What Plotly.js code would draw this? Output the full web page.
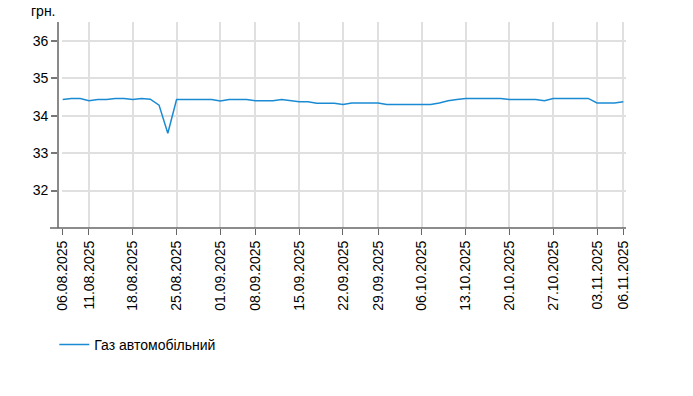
<!DOCTYPE html>
<html>
<head>
<meta charset="utf-8">
<script src="https://cdn.plot.ly/plotly-3.0.1.min.js"></script>
<style>html,body{margin:0;padding:0;background:#fff;}#chart{width:693px;height:396px;}</style>
</head>
<body>
<div id="chart"></div>
<script>
// Business days (category axis)
const dates = [
  "06.08.2025","07.08.2025","08.08.2025","11.08.2025","12.08.2025","13.08.2025","14.08.2025","15.08.2025",
  "18.08.2025","19.08.2025","20.08.2025","21.08.2025","22.08.2025","25.08.2025","26.08.2025","27.08.2025",
  "28.08.2025","29.08.2025","01.09.2025","02.09.2025","03.09.2025","04.09.2025","08.09.2025","09.09.2025",
  "10.09.2025","11.09.2025","12.09.2025","15.09.2025","16.09.2025","17.09.2025","18.09.2025","19.09.2025",
  "22.09.2025","23.09.2025","24.09.2025","25.09.2025","29.09.2025","30.09.2025","01.10.2025","02.10.2025",
  "03.10.2025","06.10.2025","07.10.2025","08.10.2025","09.10.2025","10.10.2025","13.10.2025","14.10.2025",
  "15.10.2025","16.10.2025","17.10.2025","20.10.2025","21.10.2025","22.10.2025","23.10.2025","24.10.2025",
  "27.10.2025","28.10.2025","29.10.2025","30.10.2025","31.10.2025","03.11.2025","04.11.2025","05.11.2025",
  "06.11.2025"
];
const gasPrice = [
  34.43,34.46,34.46,34.40,34.43,34.43,34.46,34.46,
  34.43,34.46,34.44,34.28,33.53,34.43,34.43,34.43,
  34.43,34.43,34.39,34.43,34.43,34.43,34.40,34.40,
  34.40,34.43,34.39,34.37,34.37,34.33,34.33,34.33,
  34.30,34.34,34.34,34.34,34.34,34.30,34.30,34.30,
  34.30,34.30,34.30,34.34,34.40,34.43,34.46,34.46,
  34.46,34.46,34.46,34.43,34.43,34.43,34.43,34.40,
  34.46,34.46,34.46,34.46,34.46,34.34,34.34,34.34,
  34.37
];
const tickDates = ["06.08.2025","11.08.2025","18.08.2025","25.08.2025","01.09.2025","08.09.2025","15.09.2025",
  "22.09.2025","29.09.2025","06.10.2025","13.10.2025","20.10.2025","27.10.2025","03.11.2025","06.11.2025"];
const yTicks = [32,33,34,35,36];
const seriesName = "Газ автомобільний";
const unitLabel = "грн.";

const FONT = '"Liberation Sans", Arial, sans-serif';

const trace = {
  x: dates, y: gasPrice, type: 'scatter', mode: 'lines', name: seriesName,
  line: {color: '#1a8bd3', width: 1.5}
};

const layout = {
  width: 693, height: 396,
  margin: {l: 50, r: 67, t: 22, b: 168, pad: 0},
  paper_bgcolor: '#fff', plot_bgcolor: '#fff',
  font: {family: FONT, size: 14, color: '#000'},
  showlegend: true,
  legend: {orientation: 'h', x: 0.0075, xanchor: 'left', y: -0.568, yanchor: 'middle',
           font: {family: FONT, size: 14, color: '#000'}, bgcolor: 'rgba(0,0,0,0)'},
  xaxis: {
    type: 'category', domain: [0.02083, 1], range: [-0.08, 64.31],
    tickmode: 'array', tickvals: tickDates, ticktext: tickDates, tickangle: -90,
    ticks: 'outside', ticklen: 6, tickwidth: 1, tickcolor: '#666',
    showgrid: true, gridcolor: '#e0e0e0', gridwidth: 2,
    showline: false, zeroline: false,
    tickfont: {family: FONT, size: 14, color: '#000'}
  },
  yaxis: {
    range: [31, 36.5], anchor: 'free', position: 0.0142,
    tickmode: 'array', tickvals: yTicks, ticktext: yTicks.map(String),
    ticks: 'outside', ticklen: 6, tickwidth: 2, tickcolor: '#777',
    showline: true, linecolor: '#8a8a8a', linewidth: 2,
    showgrid: true, gridcolor: '#e0e0e0', gridwidth: 2, zeroline: false,
    tickfont: {family: FONT, size: 14, color: '#000'}
  },
  shapes: [
    {type: 'line', xref: 'paper', yref: 'paper', x0: 0, x1: 1, y0: 0, y1: 0,
     line: {color: '#666', width: 1.5}}
  ],
  annotations: [
    {text: unitLabel, xref: 'paper', yref: 'paper', x: -0.036, xanchor: 'left',
     y: 1.053, yanchor: 'middle', showarrow: false,
     font: {family: FONT, size: 14, color: '#000'}}
  ]
};

Plotly.newPlot('chart', [trace], layout, {displayModeBar: false, staticPlot: true});
</script>
</body>
</html>
